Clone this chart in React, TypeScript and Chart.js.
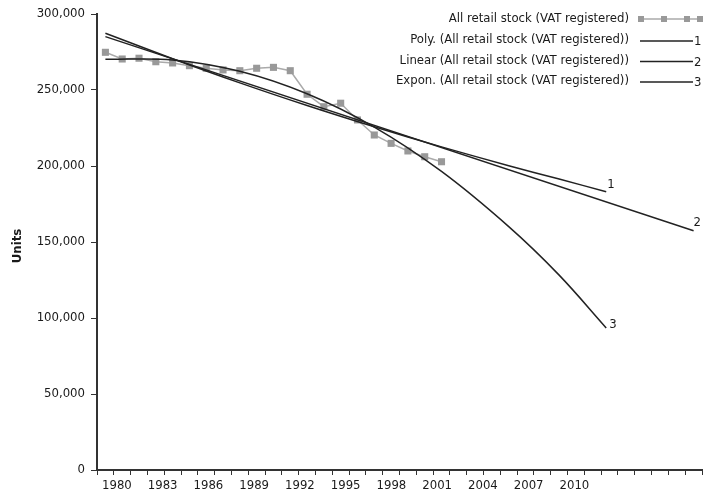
import React, { useEffect, useRef } from 'react';
import { Chart, registerables } from 'chart.js';

Chart.register(...registerables);

const FONT = "'Liberation Sans Narrow', 'DejaVu Sans Condensed', 'Arial Narrow', sans-serif";

// Data categories (index positions on the category axis)
const dataYears = [1980, 1981, 1982, 1983, 1984, 1985, 1986, 1987, 1988, 1989, 1990, 1991, 1992, 1993, 1994, 1995, 1996, 1997, 1998, 1999, 2000];
const retailStock = [274800, 270400, 270900, 268600, 267800, 266000, 264300, 263200, 262700, 264300, 264900, 262700, 247200, 239000, 241300, 230300, 220400, 214900, 209900, 206100, 202800];

// Trend lines (category index, value)
const polyIdx = [0, 4, 8, 12, 16, 20, 24, 27, 29.8];
const polyVals = [287300, 270600, 254700, 239800, 225800, 212600, 200200, 191400, 183100];
const linearIdx = [0, 35];
const linearVals = [285100, 157400];
const exponIdx = [0, 4, 8, 12, 16, 20, 24, 27, 29.8];
const exponVals = [270200, 269800, 262300, 247500, 225600, 196400, 160100, 128200, 93500];

// Axis
const categoryCount = 36;
const tickYears = ['1980', '1983', '1986', '1989', '1992', '1995', '1998', '2001', '2004', '2007', '2010'];
const yTicks = [0, 50000, 100000, 150000, 200000, 250000, 300000];
const yTitle = 'Units';

const seriesName = 'All retail stock (VAT registered)';
const legendNames = [
  'All retail stock (VAT registered)',
  'Poly. (All retail stock (VAT registered))',
  'Linear (All retail stock (VAT registered))',
  'Expon. (All retail stock (VAT registered))',
];
const endLabels = ['1', '2', '3'];

const labelPos = tickYears.map((_, k) => 0.686 + 2.722 * k);

const overlayPlugin = {
  id: 'overlay',
  afterDraw(chart: any) {
    const ctx = chart.ctx as CanvasRenderingContext2D;
    ctx.save();
    ctx.font = `13px ${FONT}`;
    ctx.fillStyle = '#1a1a1a';
    ctx.textBaseline = 'middle';
    // end labels
    const offs = [[1, -7], [0, -8], [3, -3]];
    endLabels.forEach((lab, i) => {
      const meta = chart.getDatasetMeta(i + 1);
      const pt = meta.data[meta.data.length - 1];
      ctx.textAlign = 'left';
      ctx.fillText(lab, pt.x + offs[i][0], pt.y + offs[i][1]);
    });
    // legend
    const rows = [19, 40, 60.5, 81];
    ctx.textAlign = 'right';
    legendNames.forEach((name, i) => {
      ctx.fillStyle = '#1a1a1a';
      ctx.fillText(name, 629, rows[i]);
    });
    // row 1 sample
    ctx.strokeStyle = '#aaaaaa';
    ctx.lineWidth = 1.5;
    ctx.beginPath();
    ctx.moveTo(639, rows[0]);
    ctx.lineTo(701, rows[0]);
    ctx.stroke();
    ctx.fillStyle = '#999999';
    [641, 664, 687, 700].forEach((x) => ctx.fillRect(x - 3, rows[0] - 3, 6, 6));
    // rows 2-4
    ctx.strokeStyle = '#222';
    for (let i = 1; i < 4; i++) {
      ctx.beginPath();
      ctx.moveTo(640, rows[i] + 1);
      ctx.lineTo(693, rows[i] + 1);
      ctx.stroke();
      ctx.fillStyle = '#1a1a1a';
      ctx.textAlign = 'left';
      ctx.fillText(endLabels[i - 1], 694, rows[i] + 2);
    }
    // y axis title
    ctx.save();
    ctx.font = `bold 13px ${FONT}`;
    ctx.fillStyle = '#1a1a1a';
    ctx.translate(18, 246);
    ctx.rotate(-Math.PI / 2);
    ctx.textAlign = 'center';
    ctx.textBaseline = 'middle';
    ctx.fillText(yTitle, 0, 0);
    ctx.restore();
    ctx.restore();
  },
};

export default function App() {
  const ref = useRef<HTMLCanvasElement>(null);
  useEffect(() => {
    if (!ref.current) return;
    const mk = (xs: number[], ys: number[]) => xs.map((x, i) => ({ x, y: ys[i] }));
    const boundaries = Array.from({ length: categoryCount + 1 }, (_, i) => i - 0.5);
    const chart = new Chart(ref.current, {
      type: 'line',
      data: {
        datasets: [
          {
            label: seriesName,
            data: dataYears.map((_, i) => ({ x: i, y: retailStock[i] })),
            borderColor: '#aaaaaa',
            borderWidth: 1.5,
            pointStyle: 'rect',
            pointRadius: 5,
            pointBackgroundColor: '#999999',
            pointBorderColor: '#999999',
            pointBorderWidth: 0,
            order: 4,
          },
          {
            label: 'Poly.',
            data: mk(polyIdx, polyVals),
            borderColor: '#222',
            borderWidth: 1.5,
            pointRadius: 0,
            tension: 0.35,
            order: 1,
          },
          {
            label: 'Linear',
            data: mk(linearIdx, linearVals),
            borderColor: '#222',
            borderWidth: 1.5,
            pointRadius: 0,
            order: 2,
          },
          {
            label: 'Expon.',
            data: mk(exponIdx, exponVals),
            borderColor: '#222',
            borderWidth: 1.5,
            pointRadius: 0,
            tension: 0.35,
            order: 3,
          },
        ],
      },
      options: {
        animation: false,
        responsive: false,
        layout: { padding: { left: 0, right: 10, top: 14, bottom: 0 } },
        plugins: { legend: { display: false }, tooltip: { enabled: false } },
        scales: {
          x: {
            type: 'linear',
            min: -0.5,
            max: categoryCount - 0.5,
            bounds: 'data',
            afterBuildTicks: (scale: any) => {
              const vals = [...boundaries, ...labelPos].sort((a, b) => a - b);
              scale.ticks = vals.map((v) => ({ value: v }));
            },
            afterFit: (scale: any) => {
              scale.height = 25;
            },
            ticks: {
              autoSkip: false,
              maxRotation: 0,
              padding: 3,
              color: '#1a1a1a',
              font: { family: FONT, size: 13 },
              callback: (value: any) => {
                const k = labelPos.findIndex((p) => Math.abs(p - value) < 1e-6);
                return k >= 0 ? tickYears[k] : '';
              },
            },
            grid: {
              drawOnChartArea: false,
              drawTicks: true,
              tickLength: 5,
              tickWidth: 1,
              tickColor: (c: any) => {
                const v = c.tick ? c.tick.value : 0;
                return labelPos.some((p) => Math.abs(p - v) < 1e-6) ? 'rgba(0,0,0,0)' : '#333';
              },
            },
            border: { display: true, color: '#333', width: 2 },
          },
          y: {
            type: 'linear',
            min: 0,
            max: 300000,
            bounds: 'data',
            afterBuildTicks: (scale: any) => {
              scale.ticks = yTicks.map((v) => ({ value: v }));
            },
            afterFit: (scale: any) => {
              scale.width = 97;
            },
            title: { display: false },
            ticks: {
              color: '#1a1a1a',
              padding: 6,
              font: { family: FONT, size: 13 },
              callback: (value: any) => Number(value).toLocaleString('en-US'),
            },
            grid: {
              drawOnChartArea: false,
              drawTicks: true,
              tickLength: 6,
              tickColor: '#333',
            },
            border: { display: true, color: '#333', width: 2 },
          },
        },
      },
      plugins: [overlayPlugin],
    } as any);
    return () => chart.destroy();
  }, []);
  return (
    <div style={{ position: 'fixed', left: 0, top: 0, width: 712, height: 495, background: '#fff' }}>
      <canvas ref={ref} width={712} height={495} />
    </div>
  );
}
